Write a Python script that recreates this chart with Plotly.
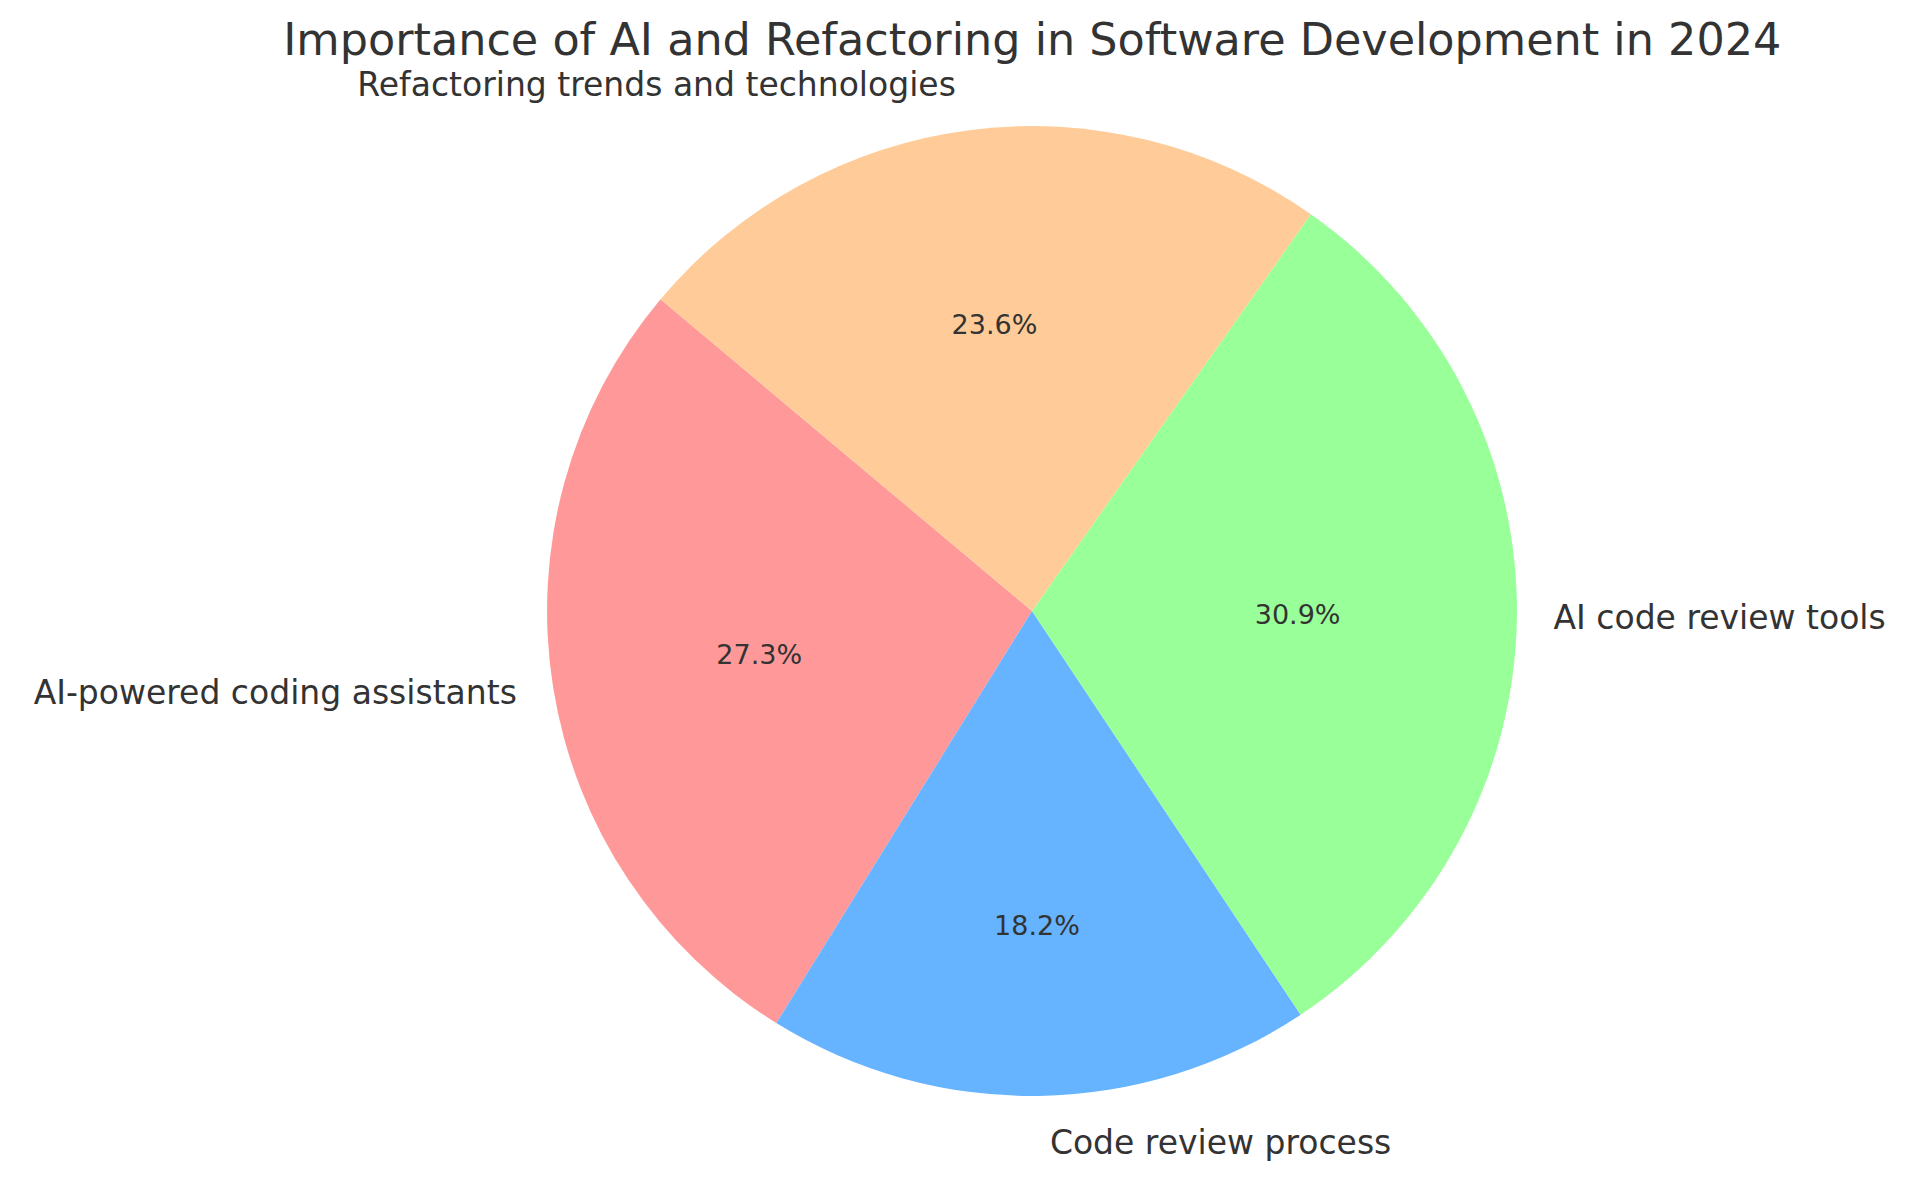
import plotly.graph_objects as go

# dados do gráfico
categorias = ['AI-powered coding assistants', 'Code review process',
              'AI code review tools', 'Refactoring trends and technologies']
valores = [30, 20, 34, 26]
cores = ['#ff9999', '#66b3ff', '#99ff99', '#ffcc99']

titulo = 'Importance of AI and Refactoring in Software Development in 2024'

# primeira fatia começa em 140 graus (anti-horário), igual ao startangle do matplotlib
inicio = 140
rotacao = -(inicio - 90) - 360 * valores[0] / sum(valores)

fig = go.Figure()

# fatias com percentuais dentro
fig.add_trace(go.Pie(
    labels=categorias,
    values=valores,
    sort=False,
    direction='counterclockwise',
    rotation=rotacao,
    domain=dict(x=[0, 1], y=[0.031, 0.969]),
    marker=dict(colors=cores, line=dict(width=0)),
    textinfo='percent',
    texttemplate='%{percent:.1%}',
    textposition='inside',
    insidetextorientation='horizontal',
    textfont=dict(family='DejaVu Sans', size=27, color='#333333'),
    showlegend=False,
    hoverinfo='label+percent',
))

# pizza transparente um pouco maior, só pros rótulos de fora (afasta o texto da borda)
fig.add_trace(go.Pie(
    labels=categorias,
    values=valores,
    sort=False,
    direction='counterclockwise',
    rotation=rotacao,
    domain=dict(x=[0, 1], y=[0.005, 0.995]),
    marker=dict(colors=['rgba(0,0,0,0)'] * 4, line=dict(width=0)),
    textinfo='label',
    textposition='outside',
    outsidetextfont=dict(family='DejaVu Sans', size=33, color='#333333'),
    showlegend=False,
    hoverinfo='skip',
))

fig.update_traces(automargin=False)

fig.update_layout(
    width=1929,
    height=1179,
    paper_bgcolor='white',
    plot_bgcolor='white',
    margin=dict(l=188, r=69, t=86, b=59),
    font=dict(family='DejaVu Sans', color='#333333'),
    title=dict(text=titulo, x=0.531, xanchor='center', y=0.973, yanchor='middle',
               font=dict(family='DejaVu Sans', size=44.5, color='#333333')),
)

fig.write_html("out.html")
